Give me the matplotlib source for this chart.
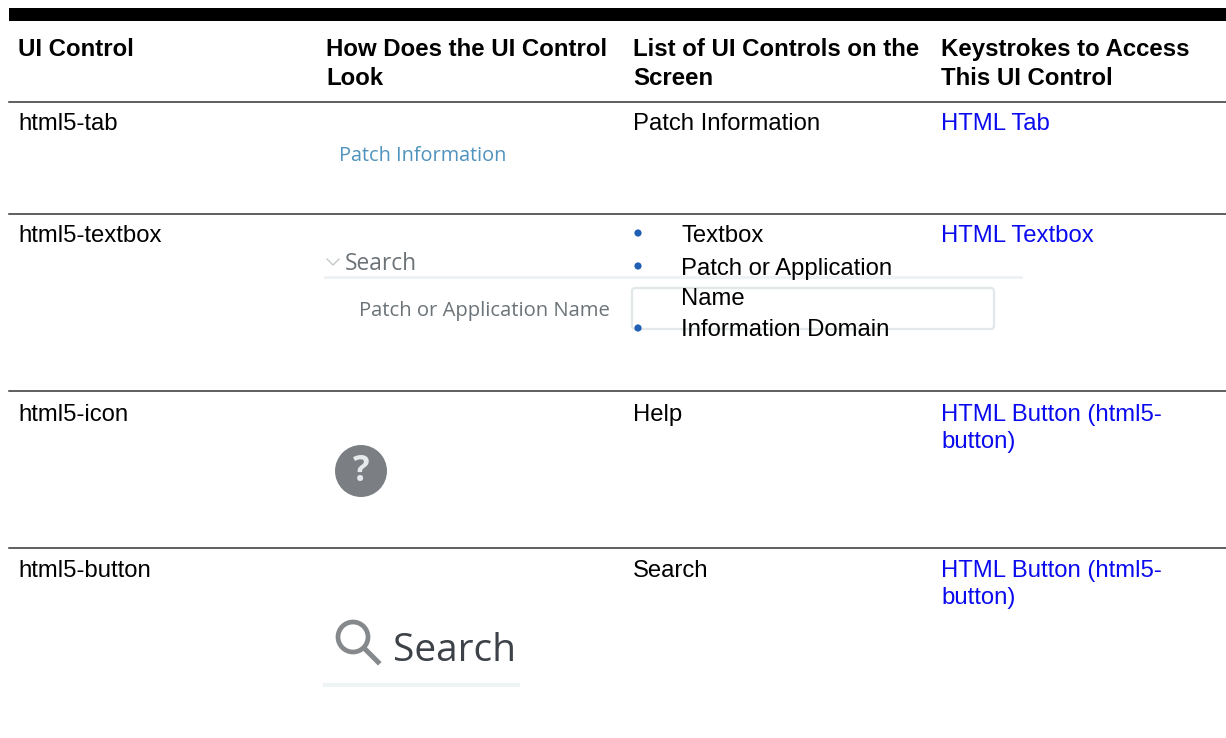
from matplotlib import pyplot as plt
from matplotlib.patches import Circle, FancyBboxPatch, Rectangle

W, H = 1226, 738

headers = [
    'UI Control',
    'How Does the UI Control\nLook',
    'List of UI Controls on the\nScreen',
    'Keystrokes to Access\nThis UI Control',
]
controls = ['html5-tab', 'html5-textbox', 'html5-icon', 'html5-button']
screen_items = ['Patch Information', None, 'Help', 'Search']
textbox_items = ['Textbox', 'Patch or Application', 'Name', 'Information Domain']
keystrokes = ['HTML Tab', 'HTML Textbox', 'HTML Button (html5-\nbutton)', 'HTML Button (html5-\nbutton)']

col_x = [18, 326, 633, 941]
row_y = [124, 236, 415, 571]
rule_y = [102, 214, 391, 548]
item_y = [236, 269, 299, 330]
bullet_y = [233, 266, 328]

plt.rcParams['font.family'] = ['Liberation Sans', 'DejaVu Sans']
FS = 17.2
FS_HEAD = 17.25

fig = plt.figure(figsize=(W / 100, H / 100), dpi=100)
ax = fig.add_axes([0, 0, 1, 1])
ax.set_xlim(0, W)
ax.set_ylim(H, 0)
ax.axis('off')

# table frame
ax.add_patch(Rectangle((9, 8), W - 9, 13, color='black', lw=0))
for y in rule_y:
    ax.plot([9, W], [y, y], color='#333333', lw=1.1)

for x, head in zip(col_x, headers):
    ax.text(x, 38, head, fontsize=FS_HEAD, fontweight='bold', va='top', linespacing=1.34)

for y, name in zip(row_y, controls):
    ax.text(col_x[0], y, name, fontsize=FS, va='center')

for y, item in zip(row_y, screen_items):
    if item:
        ax.text(col_x[2], y, item, fontsize=FS, va='center')

for y, link in zip(row_y, keystrokes):
    ax.text(col_x[3], y - 11, link, fontsize=FS, color='#0a0aee', va='top', linespacing=1.27)

# screenshot of the tab
ax.text(339, 156, 'Patch Information', fontsize=14.3, family='Open Sans', color='#3d87b5', va='center', alpha=0.9)

# screenshot of the textbox
ax.plot([327, 333, 339], [259, 265, 259], color='#c4c9cc', lw=1)
ax.text(345, 264, 'Search', fontsize=16.4, family='Open Sans', color='#6b7378', va='center')
ax.plot([325, 1021], [277, 277], color='#eef2f4', lw=2)
ax.text(359, 311, 'Patch or Application Name', fontsize=14.6, family='Open Sans', color='#6b7378', va='center')
ax.add_patch(FancyBboxPatch((632, 288), 362, 41, boxstyle='round,pad=0,rounding_size=3',
                            fill=False, ec='#e2e7ea', lw=1.6))

for y, item in zip(item_y, textbox_items):
    ax.text(681, y, item, fontsize=FS, va='center')
for y in bullet_y:
    ax.add_patch(Circle((638, y), 3.6, color='#1f5fb4', lw=0))

# help icon
ax.add_patch(Circle((361, 471), 26, color='#7b7f84', lw=0))
ax.text(361, 472, '?', fontsize=25, fontweight='bold', family='Open Sans', color='#e6e8ea', ha='center', va='center')

# search button
ax.add_patch(Circle((353, 637), 15, fill=False, ec='#85898c', lw=3.4))
ax.plot([364, 378], [648, 662], color='#85898c', lw=3.6)
ax.text(393, 651, 'Search', fontsize=28, family='Open Sans', color='#3c4248', va='center')
ax.plot([325, 518], [685, 685], color='#eef3f5', lw=3)

fig.savefig('out.png', dpi=100)
